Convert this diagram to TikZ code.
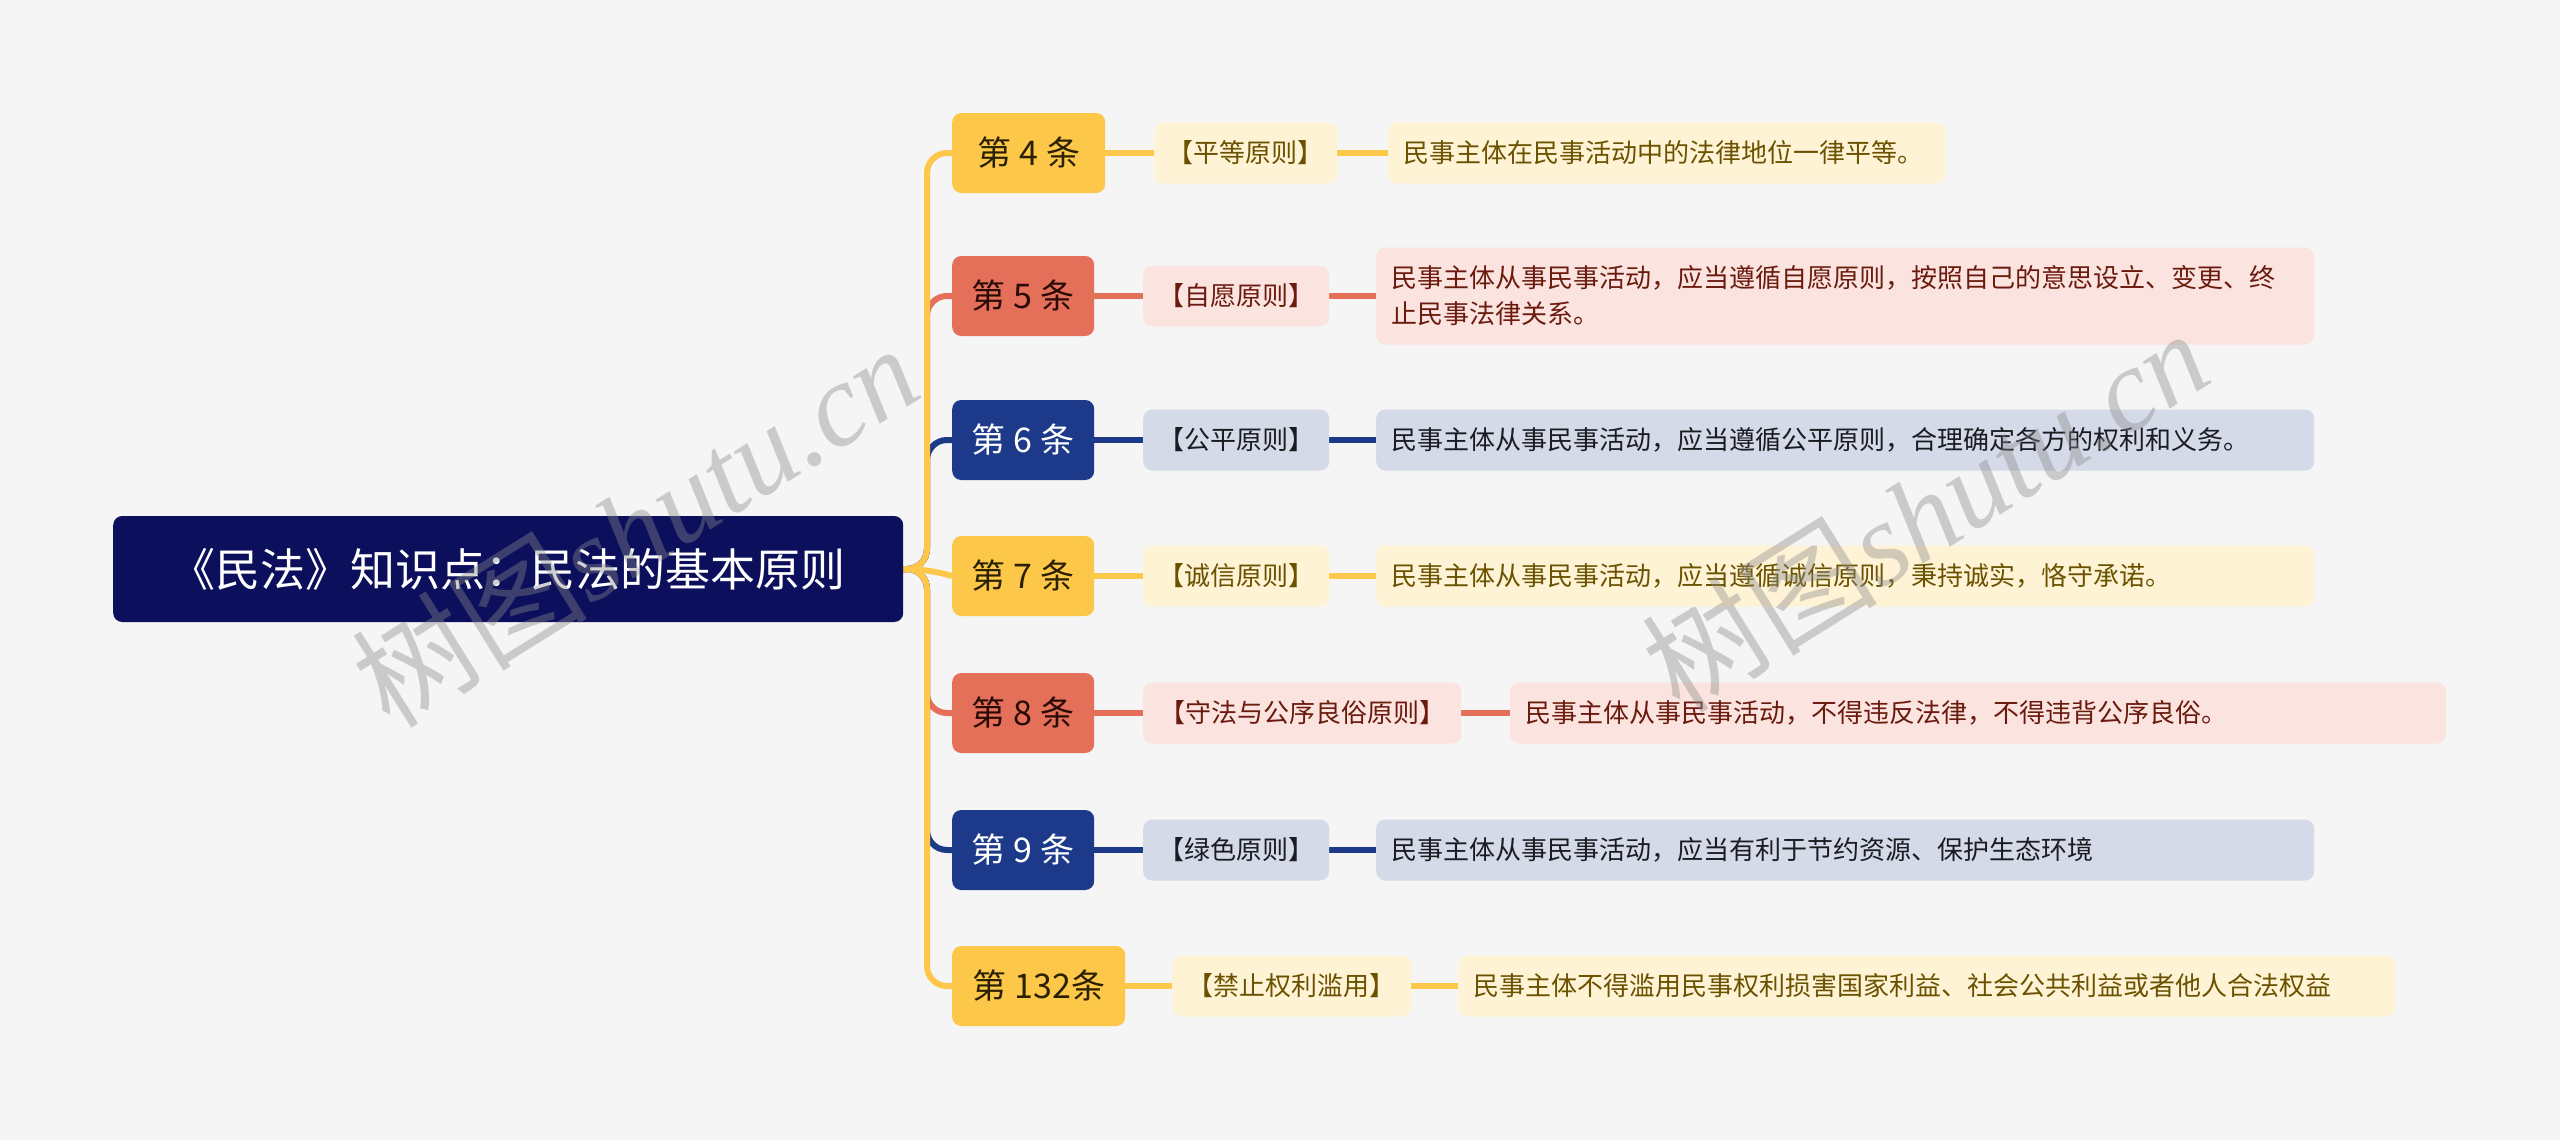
\documentclass[tikz,border=0pt]{standalone}
\usepackage{fontspec}
\setmainfont{Noto Sans CJK SC}
\newfontfamily\wmserif{Liberation Serif}
\definecolor{bgc}{HTML}{F5F5F5}
\definecolor{rootc}{HTML}{0B0F5C}
\definecolor{yel}{HTML}{FDC84A}
\definecolor{yelL}{HTML}{FFF3D6}
\definecolor{yelT}{HTML}{6B5200}
\definecolor{yelD}{HTML}{2B2100}
\definecolor{red}{HTML}{E5705A}
\definecolor{redL}{HTML}{FBE4DF}
\definecolor{redT}{HTML}{6B1A0E}
\definecolor{redD}{HTML}{2A0A05}
\definecolor{blu}{HTML}{1D3A8A}
\definecolor{bluL}{HTML}{D5DAE8}
\definecolor{bluT}{HTML}{1B1B22}
\definecolor{wmc}{HTML}{8A8A8A}
\pgfdeclarelayer{bg}
\pgfdeclarelayer{fg}
\pgfsetlayers{bg,main,fg}
\newcommand{\gapsp}{\hspace{8pt}}
\begin{document}
\begin{tikzpicture}[x=1pt,y=-1pt,
  base/.style={rounded corners=9pt, inner sep=0pt, anchor=west},
  rootbox/.style={base, fill=rootc, text=white, minimum width=790pt, minimum height=106pt, font=\fontsize{45}{54}\selectfont},
  lone/.style={base, minimum height=80pt, font=\fontsize{34}{40}\selectfont},
  ltwo/.style={base, minimum height=61pt, font=\fontsize{26}{32}\selectfont},
  lthree/.style={base, minimum height=61pt, inner xsep=15pt, align=left, font=\fontsize{26}{36}\selectfont},
  yone/.style={lone, fill=yel, text=yelD},
  rone/.style={lone, fill=red, text=redD},
  bone/.style={lone, fill=blu, text=white},
  ylt/.style={fill=yelL, text=yelT},
  rlt/.style={fill=redL, text=redT},
  blt/.style={fill=bluL, text=bluT},
  conn/.style={line width=6pt, rounded corners=20pt},
  wm/.style={text=wmc, opacity=0.4, rotate=32, inner sep=0pt}
]
\begin{pgfonlayer}{bg}
\fill[bgc] (0,0) rectangle (2560,1140);
\end{pgfonlayer}
\useasboundingbox (0,0) rectangle (2560,1140);

% root
\node[rootbox] (root) at (113,569) {《民法》知识点：民法的基本原则};

% level 1
\node[yone, minimum width=153pt] (a4) at (952,153) {第\gapsp 4\gapsp 条};
\node[rone, minimum width=142pt] (a5) at (952,296) {第\gapsp 5\gapsp 条};
\node[bone, minimum width=142pt] (a6) at (952,440) {第\gapsp 6\gapsp 条};
\node[yone, minimum width=142pt] (a7) at (952,576) {第\gapsp 7\gapsp 条};
\node[rone, minimum width=142pt] (a8) at (952,713) {第\gapsp 8\gapsp 条};
\node[bone, minimum width=142pt] (a9) at (952,850) {第\gapsp 9\gapsp 条};
\node[yone, minimum width=173pt] (a132) at (952,986) {第\gapsp 132条};

% level 2
\node[ltwo, ylt, minimum width=183pt] (b4) at (1154,153) {【平等原则】};
\node[ltwo, rlt, minimum width=186pt] (b5) at (1143,296) {【自愿原则】};
\node[ltwo, blt, minimum width=186pt] (b6) at (1143,440) {【公平原则】};
\node[ltwo, ylt, minimum width=186pt] (b7) at (1143,576) {【诚信原则】};
\node[ltwo, rlt, minimum width=318pt] (b8) at (1143,713) {【守法与公序良俗原则】};
\node[ltwo, blt, minimum width=186pt] (b9) at (1143,850) {【绿色原则】};
\node[ltwo, ylt, minimum width=239pt] (b132) at (1172,986) {【禁止权利滥用】};

% level 3
\node[lthree, ylt, text width=527pt] (c4) at (1388,153) {民事主体在民事活动中的法律地位一律平等。};
\node[lthree, rlt, text width=908pt, minimum height=97pt] (c5) at (1376,296) {民事主体从事民事活动，应当遵循自愿原则，按照自己的意思设立、变更、终\\止民事法律关系。};
\node[lthree, blt, text width=908pt] (c6) at (1376,440) {民事主体从事民事活动，应当遵循公平原则，合理确定各方的权利和义务。};
\node[lthree, ylt, text width=908pt] (c7) at (1376,576) {民事主体从事民事活动，应当遵循诚信原则，秉持诚实，恪守承诺。};
\node[lthree, rlt, text width=906pt] (c8) at (1510,713) {民事主体从事民事活动，不得违反法律，不得违背公序良俗。};
\node[lthree, blt, text width=908pt] (c9) at (1376,850) {民事主体从事民事活动，应当有利于节约资源、保护生态环境};
\node[lthree, ylt, text width=907pt] (c132) at (1458,986) {民事主体不得滥用民事权利损害国家利益、社会公共利益或者他人合法权益};

\begin{pgfonlayer}{bg}
% trunk connectors
\coordinate (tr) at (927,569);
\draw[conn, red]  (root.east) -- (tr) -- (tr |- a5.west) -- (a5.west);
\draw[conn, red]  (root.east) -- (tr) -- (tr |- a8.west) -- (a8.west);
\draw[conn, blu]  (root.east) -- (tr) -- (tr |- a6.west) -- (a6.west);
\draw[conn, blu]  (root.east) -- (tr) -- (tr |- a9.west) -- (a9.west);
\draw[conn, yel]  (root.east) -- (tr) -- (tr |- a4.west) -- (a4.west);
\draw[conn, yel]  (root.east) -- (tr) -- (tr |- a132.west) -- (a132.west);
\draw[conn, yel]  (root.east) -- (tr) -- (a7.west);
% horizontal connectors
\foreach \n/\c in {4/yel,5/red,6/blu,7/yel,8/red,9/blu,132/yel}{
  \draw[line width=6pt, \c] (a\n.east) -- (b\n.west);
  \draw[line width=6pt, \c] (b\n.east) -- (c\n.west);
}
\end{pgfonlayer}

% watermarks
\begin{pgfonlayer}{fg}
\node[wm] (wm1) at (635,525) {\fontsize{118}{120}\selectfont 树图\wmserif\itshape shutu.cn};
\node[wm] (wm2) at (1925,510) {\fontsize{118}{120}\selectfont 树图\wmserif\itshape shutu.cn};
\end{pgfonlayer}
\end{tikzpicture}
\end{document}
